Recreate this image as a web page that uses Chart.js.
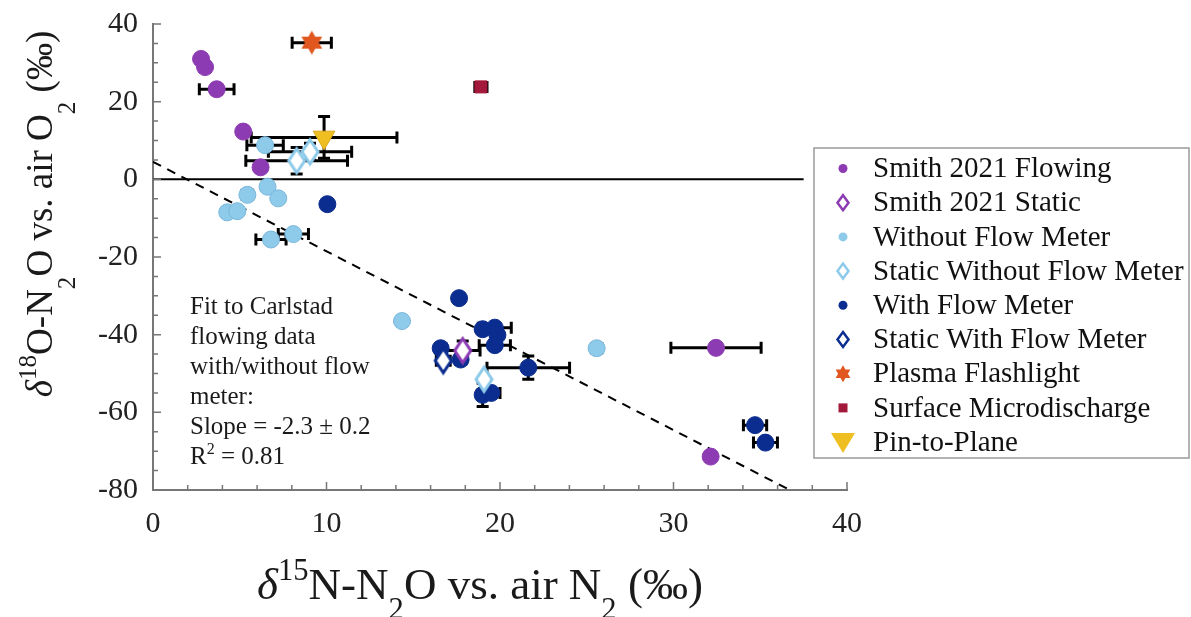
<!DOCTYPE html>
<html>
<head>
<meta charset="utf-8">
<script src="https://cdn.jsdelivr.net/npm/chart.js@4.4.0/dist/chart.umd.min.js"></script>
<style>
  html, body { margin: 0; padding: 0; background: #fff; }
</style>
</head>
<body>
<canvas id="myChart" width="1191" height="617"></canvas>
<script>
// d15N-N2O (x) and d18O-N2O (y), per group, with +/- error bars (0 = none)
var smithFlowX    = [2.77, 3.0, 3.67, 5.2, 6.2, 32.45, 32.14];
var smithFlowY    = [31.0, 28.9, 23.2, 12.3, 3.1, -43.4, -71.4];
var smithFlowXErr = [0, 0, 1.0, 0, 0, 2.6, 0];
var smithFlowYErr = [0, 0, 1.2, 0, 0, 1.0, 0];

var smithStaticX    = [17.85];
var smithStaticY    = [-44.1];
var smithStaticXErr = [1.0];
var smithStaticYErr = [2.5];

var noMeterX    = [6.46, 6.6, 5.44, 7.22, 4.28, 4.86, 6.8, 8.09, 14.35, 25.57];
var noMeterY    = [8.8, -1.9, -4.0, -4.9, -8.5, -8.2, -15.5, -14.1, -36.5, -43.5];
var noMeterXErr = [1.05, 0, 0.3, 0, 0, 0, 0.87, 0.87, 0, 0.3];
var noMeterYErr = [0, 0, 1.0, 0, 0, 0, 0, 0, 0, 1.0];

var staticNoMeterX    = [8.28, 9.05, 19.08];
var staticNoMeterY    = [4.8, 7.1, -51.5];
var staticNoMeterXErr = [2.93, 2.4, 0];
var staticNoMeterYErr = [3.4, 2.2, 0];

var meterX    = [10.05, 17.64, 19.0, 19.7, 19.85, 19.7, 16.58, 17.73, 21.63, 19.0, 19.5, 34.7, 35.3];
var meterY    = [-6.4, -30.6, -38.6, -38.2, -40.1, -42.7, -43.5, -46.4, -48.5, -55.5, -55.0, -63.3, -67.8];
var meterXErr = [0, 0, 0, 0.95, 0, 0.9, 0.3, 0.3, 2.38, 0.3, 0.5, 0.67, 0.69];
var meterYErr = [0, 0, 0, 0, 0, 0, 1.0, 1.0, 3.0, 3.0, 0, 1.0, 0];

var staticMeterX    = [16.73];
var staticMeterY    = [-46.7];
var staticMeterXErr = [0.4];
var staticMeterYErr = [1.0];

var flashlightX    = [9.15];
var flashlightY    = [35.2];
var flashlightXErr = [1.13];
var flashlightYErr = [0];

var microX    = [18.9];
var microY    = [23.8];
var microXErr = [0.35];
var microYErr = [0];

var pinX    = [9.86];
var pinY    = [10.8];
var pinXErr = [4.2];
var pinYErr = [5.4];

// fitted line end points and the zero reference line
var fitX  = [0, 36.7];
var fitY  = [4.5, -80];
var zeroX = [0, 37.5];
var zeroY = [0, 0];

var legendLabels = ['Smith 2021 Flowing', 'Smith 2021 Static', 'Without Flow Meter',
  'Static Without Flow Meter', 'With Flow Meter', 'Static With Flow Meter',
  'Plasma Flashlight', 'Surface Microdischarge', 'Pin-to-Plane'];
var fitNote = ['Fit to Carlstad', 'flowing data', 'with/without flow', 'meter:', 'Slope = -2.3 \u00b1 0.2'];

var SERIF = '"Liberation Serif", "Times New Roman", serif';
var PURPLE = '#8d3bb3', LIGHT = '#8ecbea', DARK = '#0b2d8f';
var ORANGE = '#e0581f', CRIMSON = '#a3193b', YELLOW = '#efbf22';

function pts(xs, ys) {
  return xs.map(function (x, i) { return { x: x, y: ys[i] }; });
}

function diamondPath(g, cx, cy, w, h) {
  g.beginPath();
  g.moveTo(cx, cy - h / 2);
  g.lineTo(cx + w / 2, cy);
  g.lineTo(cx, cy + h / 2);
  g.lineTo(cx - w / 2, cy);
  g.closePath();
}

function starPath(g, cx, cy, r) {
  g.beginPath();
  for (var t = 0; t < 2; t++) {
    for (var k = 0; k < 3; k++) {
      var a = -Math.PI / 2 + t * Math.PI + k * 2 * Math.PI / 3;
      var px = cx + r * Math.cos(a), py = cy + r * Math.sin(a);
      if (k === 0) g.moveTo(px, py); else g.lineTo(px, py);
    }
    g.closePath();
  }
}

function drawDiamond(g, cx, cy, w, h, color, lw) {
  diamondPath(g, cx, cy, w, h);
  g.fillStyle = '#fff';
  g.fill();
  g.lineWidth = lw;
  g.strokeStyle = color;
  g.stroke();
}

function drawStar(g, cx, cy, r) {
  starPath(g, cx, cy, r);
  g.fillStyle = ORANGE;
  g.fill('nonzero');
}

function diamondImage(color) {
  var c = document.createElement('canvas');
  c.width = 22; c.height = 30;
  drawDiamond(c.getContext('2d'), 11, 15, 16, 24, color, 3);
  return c;
}

function starImage() {
  var c = document.createElement('canvas');
  c.width = 28; c.height = 28;
  drawStar(c.getContext('2d'), 14, 14, 12);
  return c;
}

// draws text runs, some as super/subscripts or italic, centred on x
function drawRich(g, runs, x, y, size, subDrop) {
  var w = 0;
  runs.forEach(function (r) {
    r.fs = r.s ? size * 0.68 : size;
    r.font = (r.i ? 'italic ' : '') + r.fs + 'px ' + SERIF;
    g.font = r.font;
    r.w = g.measureText(r.t).width;
    w += r.w;
  });
  var cx = x - w / 2;
  g.textAlign = 'left';
  g.textBaseline = 'alphabetic';
  runs.forEach(function (r) {
    g.font = r.font;
    var dy = r.s === 'sup' ? -size * 0.42 : (r.s === 'sub' ? size * subDrop : 0);
    g.fillText(r.t, cx, y + dy);
    cx += r.w;
  });
}

function makeSet(label, xs, ys, xe, ye, style) {
  var ds = {
    label: label,
    data: pts(xs, ys),
    xErr: xe,
    yErr: ye,
    pointRadius: 8.5,
    pointHoverRadius: 8.5,
    pointBorderWidth: 1,
    showLine: false
  };
  return Object.assign(ds, style);
}

var datasets = [
  makeSet(legendLabels[8], pinX, pinY, pinXErr, pinYErr,
    { pointStyle: 'triangle', rotation: 180, pointRadius: 12.5, pointHoverRadius: 12.5, backgroundColor: YELLOW, borderColor: '#d9a91a' }),
  makeSet(legendLabels[7], microX, microY, microXErr, microYErr,
    { pointStyle: 'rect', pointRadius: 8.5, pointHoverRadius: 8.5, backgroundColor: CRIMSON, borderColor: CRIMSON }),
  makeSet(legendLabels[6], flashlightX, flashlightY, flashlightXErr, flashlightYErr,
    { pointStyle: starImage() }),
  makeSet(legendLabels[5], staticMeterX, staticMeterY, staticMeterXErr, staticMeterYErr,
    { pointStyle: diamondImage(DARK) }),
  makeSet(legendLabels[3], staticNoMeterX, staticNoMeterY, staticNoMeterXErr, staticNoMeterYErr,
    { pointStyle: diamondImage(LIGHT) }),
  makeSet(legendLabels[1], smithStaticX, smithStaticY, smithStaticXErr, smithStaticYErr,
    { pointStyle: diamondImage(PURPLE) }),
  makeSet(legendLabels[4], meterX, meterY, meterXErr, meterYErr,
    { pointStyle: 'circle', backgroundColor: DARK, borderColor: DARK }),
  makeSet(legendLabels[2], noMeterX, noMeterY, noMeterXErr, noMeterYErr,
    { pointStyle: 'circle', backgroundColor: LIGHT, borderColor: '#79b6db' }),
  makeSet(legendLabels[0], smithFlowX, smithFlowY, smithFlowXErr, smithFlowYErr,
    { pointStyle: 'circle', backgroundColor: PURPLE, borderColor: PURPLE }),
  {
    label: 'fit', data: pts(fitX, fitY), showLine: true, pointRadius: 0,
    borderColor: '#000', borderWidth: 2, borderDash: [9, 7]
  },
  {
    label: 'zero', data: pts(zeroX, zeroY), showLine: true, pointRadius: 0,
    borderColor: '#000', borderWidth: 2
  }
];

var errorBars = {
  id: 'errorBars',
  beforeDatasetsDraw: function (chart) {
    var ctx = chart.ctx, xs = chart.scales.x, ys = chart.scales.y, cap = 6;
    ctx.save();
    ctx.strokeStyle = '#000';
    ctx.lineWidth = 3;
    chart.data.datasets.forEach(function (ds) {
      if (!ds.xErr) return;
      ds.data.forEach(function (p, i) {
        var px = xs.getPixelForValue(p.x), py = ys.getPixelForValue(p.y);
        var xe = ds.xErr[i], ye = ds.yErr[i];
        ctx.beginPath();
        if (xe > 0) {
          var l = xs.getPixelForValue(p.x - xe), r = xs.getPixelForValue(p.x + xe);
          ctx.moveTo(l, py); ctx.lineTo(r, py);
          ctx.moveTo(l, py - cap); ctx.lineTo(l, py + cap);
          ctx.moveTo(r, py - cap); ctx.lineTo(r, py + cap);
        }
        if (ye > 0) {
          var t = ys.getPixelForValue(p.y + ye), b = ys.getPixelForValue(p.y - ye);
          ctx.moveTo(px, t); ctx.lineTo(px, b);
          ctx.moveTo(px - cap, t); ctx.lineTo(px + cap, t);
          ctx.moveTo(px - cap, b); ctx.lineTo(px + cap, b);
        }
        ctx.stroke();
      });
    });
    ctx.restore();
  }
};

// inward tick marks, longer on labelled values
var innerTicks = {
  id: 'innerTicks',
  afterDraw: function (chart) {
    var ctx = chart.ctx, a = chart.chartArea, xs = chart.scales.x, ys = chart.scales.y;
    ctx.save();
    ctx.strokeStyle = '#777';
    ctx.lineWidth = 1.5;
    ctx.beginPath();
    xs.ticks.forEach(function (t) {
      var px = xs.getPixelForValue(t.value), len = t.value % 10 === 0 ? 8 : 5;
      ctx.moveTo(px, a.bottom); ctx.lineTo(px, a.bottom - len);
    });
    ys.ticks.forEach(function (t) {
      var py = ys.getPixelForValue(t.value), len = t.value % 20 === 0 ? 8 : 5;
      ctx.moveTo(a.left, py); ctx.lineTo(a.left + len, py);
    });
    ctx.stroke();
    ctx.restore();
  }
};

var textLayer = {
  id: 'textLayer',
  afterDraw: function (chart) {
    var ctx = chart.ctx;
    ctx.save();
    ctx.fillStyle = '#1a1a1a';

    // axis titles
    drawRich(ctx, [
      { t: '\u03b4', i: true }, { t: '15', s: 'sup' }, { t: 'N-N' }, { t: '2', s: 'sub' },
      { t: 'O vs. air N' }, { t: '2', s: 'sub' }, { t: ' (\u2030)' }
    ], 480, 599, 45, 0.45);

    ctx.save();
    ctx.translate(52, 214);
    ctx.rotate(-Math.PI / 2);
    drawRich(ctx, [
      { t: '\u03b4', i: true }, { t: '18', s: 'sup' }, { t: 'O-N' }, { t: '2', s: 'sub' },
      { t: 'O vs. air O' }, { t: '2', s: 'sub' }, { t: ' (\u2030)' }
    ], 0, 0, 37, 0.62);
    ctx.restore();

    // fit note
    ctx.font = '25px ' + SERIF;
    ctx.textAlign = 'left';
    ctx.textBaseline = 'alphabetic';
    fitNote.forEach(function (line, i) {
      ctx.fillText(line, 190, 314 + i * 30);
    });
    var rw = ctx.measureText('R').width;
    ctx.fillText('R', 190, 464);
    ctx.font = '16px ' + SERIF;
    var sw = ctx.measureText('2').width;
    ctx.fillText('2', 190 + rw, 454);
    ctx.font = '25px ' + SERIF;
    ctx.fillText(' = 0.81', 190 + rw + sw, 464);

    // legend box
    ctx.fillStyle = '#fff';
    ctx.strokeStyle = '#9a9a9a';
    ctx.lineWidth = 1.5;
    ctx.fillRect(814, 148, 375, 310);
    ctx.strokeRect(814, 148, 375, 310);

    var mx = 843, y0 = 168.5, dy = 34.2;
    legendLabels.forEach(function (lab, i) {
      var y = y0 + i * dy;
      if (i === 0 || i === 2 || i === 4) {
        ctx.beginPath();
        ctx.arc(mx, y, 4.5, 0, Math.PI * 2);
        ctx.fillStyle = [PURPLE, '', LIGHT, '', DARK][i];
        ctx.fill();
      } else if (i === 1 || i === 3 || i === 5) {
        drawDiamond(ctx, mx, y, 11, 15, [0, PURPLE, 0, LIGHT, 0, DARK][i], 2.5);
      } else if (i === 6) {
        drawStar(ctx, mx, y, 8.5);
      } else if (i === 7) {
        ctx.fillStyle = CRIMSON;
        ctx.fillRect(mx - 4.5, y - 4.5, 9, 9);
      } else {
        ctx.beginPath();
        ctx.moveTo(mx - 12, y - 9);
        ctx.lineTo(mx + 12, y - 9);
        ctx.lineTo(mx, y + 11);
        ctx.closePath();
        ctx.fillStyle = YELLOW;
        ctx.fill();
      }
      ctx.fillStyle = '#111';
      ctx.font = '29px ' + SERIF;
      ctx.textAlign = 'left';
      ctx.textBaseline = 'middle';
      ctx.fillText(lab, 873, y + 1);
    });
    ctx.restore();
  }
};

var ctx = document.getElementById('myChart').getContext('2d');
var myChart = new Chart(ctx, {
  type: 'scatter',
  data: { datasets: datasets },
  options: {
    responsive: false,
    devicePixelRatio: 1,
    animation: false,
    layout: { padding: { left: 0, top: 24, right: 344, bottom: 0 } },
    plugins: { legend: { display: false }, tooltip: { enabled: false } },
    scales: {
      x: {
        type: 'linear', min: 0, max: 40,
        ticks: {
          stepSize: 2, autoSkip: false, maxRotation: 0, padding: 16, color: '#222',
          font: { family: SERIF, size: 30 },
          callback: function (v) { return v % 10 === 0 ? String(v) : ''; }
        },
        grid: { drawOnChartArea: false, drawTicks: false },
        border: { color: '#777', width: 2 },
        afterFit: function (s) { s.height = 127; s.paddingLeft = 0; s.paddingRight = 0; }
      },
      y: {
        type: 'linear', min: -80, max: 40,
        ticks: {
          stepSize: 5, autoSkip: false, padding: 15, color: '#222',
          font: { family: SERIF, size: 30 },
          callback: function (v) { return v % 20 === 0 ? String(v) : ''; }
        },
        grid: { drawOnChartArea: false, drawTicks: false },
        border: { color: '#777', width: 2 },
        afterFit: function (s) { s.width = 153; s.paddingTop = 0; s.paddingBottom = 0; }
      }
    }
  },
  plugins: [errorBars, innerTicks, textLayer]
});
</script>
</body>
</html>
